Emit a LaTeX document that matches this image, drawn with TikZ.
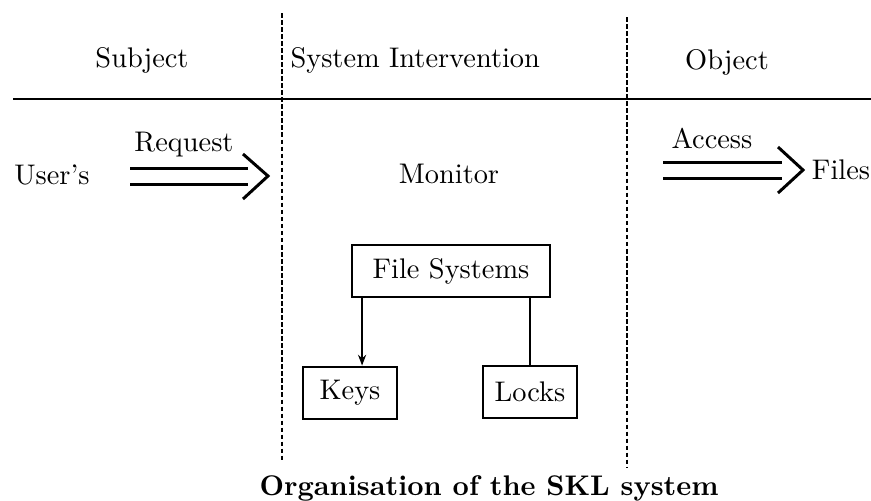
\documentclass[tikz,border=0pt]{standalone}
\usetikzlibrary{arrows.meta}
\begin{document}
\begin{tikzpicture}[x=0.37pt,y=-0.37pt,
  font=\fontsize{10.5}{12.6}\selectfont,
  lbl/.style={inner sep=0pt},
  box/.style={draw,line width=0.8pt,inner sep=0pt,minimum height=19.5pt},
  sep/.style={line width=0.5pt,dash pattern=on 1.7pt off 0.9pt},
  dline/.style={line width=1.1pt}]
  \useasboundingbox (0,0) rectangle (871,500);
  % column headings and rule
  \node[lbl] (subject) at (142,60) {Subject};
  \node[lbl,anchor=west] (sysint) at (290,60) {System Intervention};
  \node[lbl] (object) at (727,62) {Object};
  \draw[line width=1.1pt] (13,99) -- (871,99);
  \draw[sep] (282,13) -- (282,462);
  \draw[sep] (627,17) -- (627,467);
  % request
  \node[lbl] (users) at (52,175) {User's};
  \node[lbl] (request) at (184,145) {Request};
  \coordinate (reqtip) at (268,176);
  \foreach \dy in {-8,8} {
      \draw[dline] (130,176+\dy) -- (248,176+\dy);
  }
  \draw[dline] (243,154) -- (reqtip) -- (243,199);
  % monitor
  \node[lbl] (monitor) at (449,174) {Monitor};
  \node[box,minimum width=73pt] (fs) at (451,271) {File Systems};
  \node[box,minimum width=35pt] (keys) at (350,393) {Keys};
  \node[box,minimum width=34.5pt] (locks) at (530,392) {Locks};
  \draw[line width=0.8pt,-{Stealth[length=4pt,width=3pt]}] ([xshift=4pt]fs.south west) -- ([xshift=4pt]fs.south west |- keys.north);
  \draw[line width=0.8pt] (locks.north) -- (locks.north |- fs.south);
  % access
  \node[lbl] (access) at (712,138) {Access};
  \node[lbl] (files) at (841,170) {Files};
  \coordinate (acctip) at (803,170);
  \foreach \dy in {-8,8} {
      \draw[dline] (663,170+\dy) -- (782,170+\dy);
  }
  \draw[dline] (778,147) -- (acctip) -- (778,193);
  % caption
  \node[lbl,font=\fontsize{10.5}{12.6}\selectfont\bfseries,anchor=west] (caption) at (259,488) {Organisation of the SKL system};
\end{tikzpicture}
\end{document}
